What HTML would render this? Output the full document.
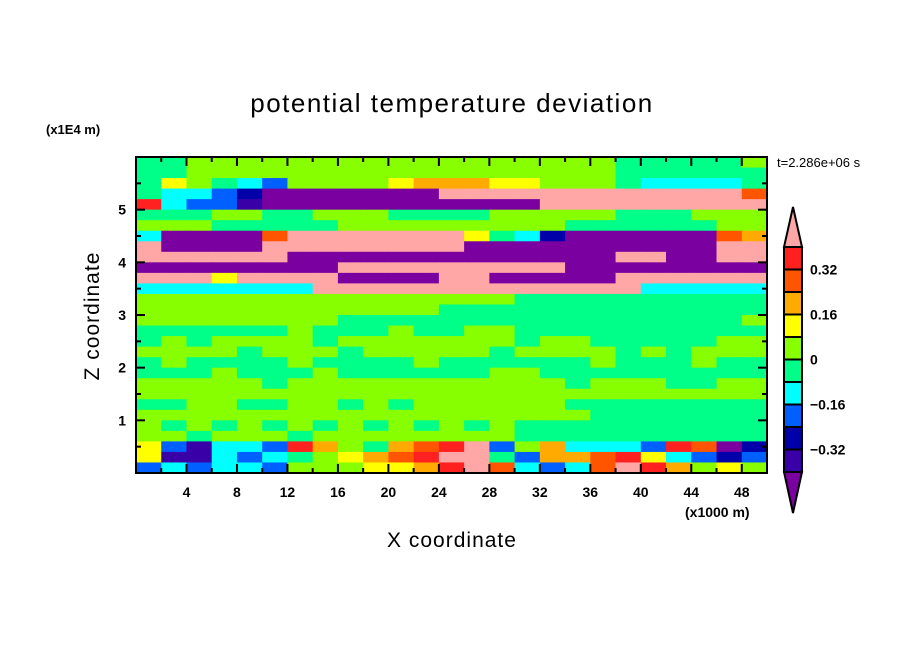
<!DOCTYPE html>
<html><head><meta charset="utf-8"><style>
body{margin:0;background:#fff;}
svg text{font-family:"Liberation Sans",sans-serif;fill:#000;}
</style></head><body>
<svg id="chart" width="904" height="654" viewBox="0 0 904 654" xmlns="http://www.w3.org/2000/svg">
<rect width="904" height="654" fill="#fff"/>
<text x="452" y="112" font-size="26" text-anchor="middle" letter-spacing="1.5">potential temperature deviation</text>
<text x="46" y="134" font-size="13" font-weight="bold">(x1E4 m)</text>
<text x="777" y="167" font-size="13">t=2.286e+06 s</text>
<text transform="translate(99,316) rotate(-90)" font-size="21" text-anchor="middle" letter-spacing="1">Z coordinate</text>
<text x="452" y="547" font-size="21" text-anchor="middle" letter-spacing="1">X coordinate</text>
<text x="685" y="517" font-size="14" font-weight="bold">(x1000 m)</text>
<g id="cells"></g>
<g id="axes"></g>
<g id="cbar"></g>
</svg>
<script>
// level colours (purple ... pink), codes 0..b
const levelCodes = ['0','1','2','3','4','5','6','7','8','9','a','b'];
const levelColors = ['#7a00a0','#3a00a8','#0000a8','#0060ff','#00ffff','#00ff88','#88ff00','#ffff00','#ffaa00','#ff5500','#ff2020','#ffa6a6'];
const colorbarLabels = ['0.32','0.16','0','-0.16','-0.32'];
const colorbarLabelValues = [0.32,0.16,0,-0.16,-0.32];
const xTicks = [4,8,12,16,20,24,28,32,36,40,44,48];
const zTicks = [1,2,3,4,5];
const xStep = 2;    // column width in x units
const zStep = 0.2;  // row height in z units (x1E4 m)
const zTop = 6;
// each row: 25 columns of level codes, from top (z=6) downward
const fieldRows = [
"5566666666666666666555556",
"5566666666666666666555555",
"5765436666788877666544445",
"544320000000bbbbbbbbbbbb9",
"a433100000000000bbbbbbbbb",
"5556655666555566666555666",
"6665555566666666655555566",
"400009bbbbbbb754200000098",
"b0000bbbbbbbb0000000000bb",
"bbbbbb0000000000000bb00bb",
"00000000bbbbbbbbb00000000",
"bbb7bbbb0000bb00000bbbbbb",
"4444444bbbbbbbbbbbbb44444",
"6666666666666665555555555",
"6666666666665555555555555",
"6666666655555555555555556",
"5555556555655665555555555",
"5656666566666665665555566",
"6666566656666656666565666",
"5655556555565555556555655",
"5556555655555566555555555",
"6666656666666666656665566",
"6666666666666666666666666",
"5566556656566666655555555",
"6666666666666666665555555",
"6565656565656565555555555",
"6656665666666665555555555",
"731443a86589ab3684443a902",
"71143456789abb53889a74323",
"343443666778ab94349ba8676"
];
const X0=136, X1=767, Y0=473, Y1=157, XMAX=50, ZMAX=6;
function xs(v){return X0+(X1-X0)*v/XMAX;}
function zs(v){return Y0-(Y0-Y1)*v/ZMAX;}
const NS='http://www.w3.org/2000/svg';
function mk(tag,attrs,parent){const e=document.createElementNS(NS,tag);for(const k in attrs)e.setAttribute(k,attrs[k]);parent.appendChild(e);return e;}
const cells=document.getElementById('cells');
fieldRows.forEach((row,r)=>{
  for(let c=0;c<row.length;c++){
    const lvl=levelCodes.indexOf(row[c]);
    const x0=xs(c*xStep), x1=xs((c+1)*xStep);
    const zt=zTop-r*zStep, zb=zTop-(r+1)*zStep;
    const y0=zs(zt), y1=zs(zb);
    const el=mk('rect',{x:x0,y:y0,width:x1-x0+0.6,height:y1-y0+0.6,fill:levelColors[Math.max(lvl,0)]},cells);
    
    
  }
});
const axes=document.getElementById('axes');
const frame=mk('rect',{x:X0,y:Y1,width:X1-X0,height:Y0-Y1,fill:'none',stroke:'#000','stroke-width':2},axes);


for(let v=2;v<XMAX;v+=2){
  const major=v%4===0, L=major?9:5, x=xs(v);
  mk('line',{x1:x,y1:Y0,x2:x,y2:Y0-L,stroke:'#000','stroke-width':2},axes);
  mk('line',{x1:x,y1:Y1,x2:x,y2:Y1+L,stroke:'#000','stroke-width':2},axes);
}
for(let v=0.5;v<ZMAX;v+=0.5){
  const major=Math.abs(v-Math.round(v))<1e-6, L=major?9:5, y=zs(v);
  mk('line',{x1:X0,y1:y,x2:X0+L,y2:y,stroke:'#000','stroke-width':2},axes);
  mk('line',{x1:X1,y1:y,x2:X1-L,y2:y,stroke:'#000','stroke-width':2},axes);
}
xTicks.forEach(v=>{
  const t=mk('text',{x:xs(v),y:497,'font-size':14,'font-weight':'bold','text-anchor':'middle'},axes);
  t.textContent=v;
  
  
});
zTicks.forEach(v=>{
  const t=mk('text',{x:126,y:zs(v)+5,'font-size':14,'font-weight':'bold','text-anchor':'end'},axes);
  t.textContent=v;
  
  
});
// colorbar
const cb=document.getElementById('cbar');
const CBX0=784, CBX1=802, CBTOP=247, BOX=22.5;
function cbY(val){return CBTOP+ (0.40-val)/0.08*BOX;}
const topTri=mk('polygon',{points:`${(CBX0+CBX1)/2},207 ${CBX0},${CBTOP} ${CBX1},${CBTOP}`,fill:levelColors[11],stroke:'#000','stroke-width':2},cb);


for(let i=0;i<10;i++){
  const r=mk('rect',{x:CBX0,y:CBTOP+i*BOX,width:CBX1-CBX0,height:BOX,fill:levelColors[10-i],stroke:'#000','stroke-width':2},cb);
  
  
}
const botY=CBTOP+10*BOX;
const botTri=mk('polygon',{points:`${CBX0},${botY} ${CBX1},${botY} ${(CBX0+CBX1)/2},513`,fill:levelColors[0],stroke:'#000','stroke-width':2},cb);


colorbarLabels.forEach((s,i)=>{
  const t=mk('text',{x:810,y:cbY(colorbarLabelValues[i])+5,'font-size':14,'font-weight':'bold'},cb);
  t.textContent=s.replace('-','\u2212');
  
  
});
</script>
</body></html>
